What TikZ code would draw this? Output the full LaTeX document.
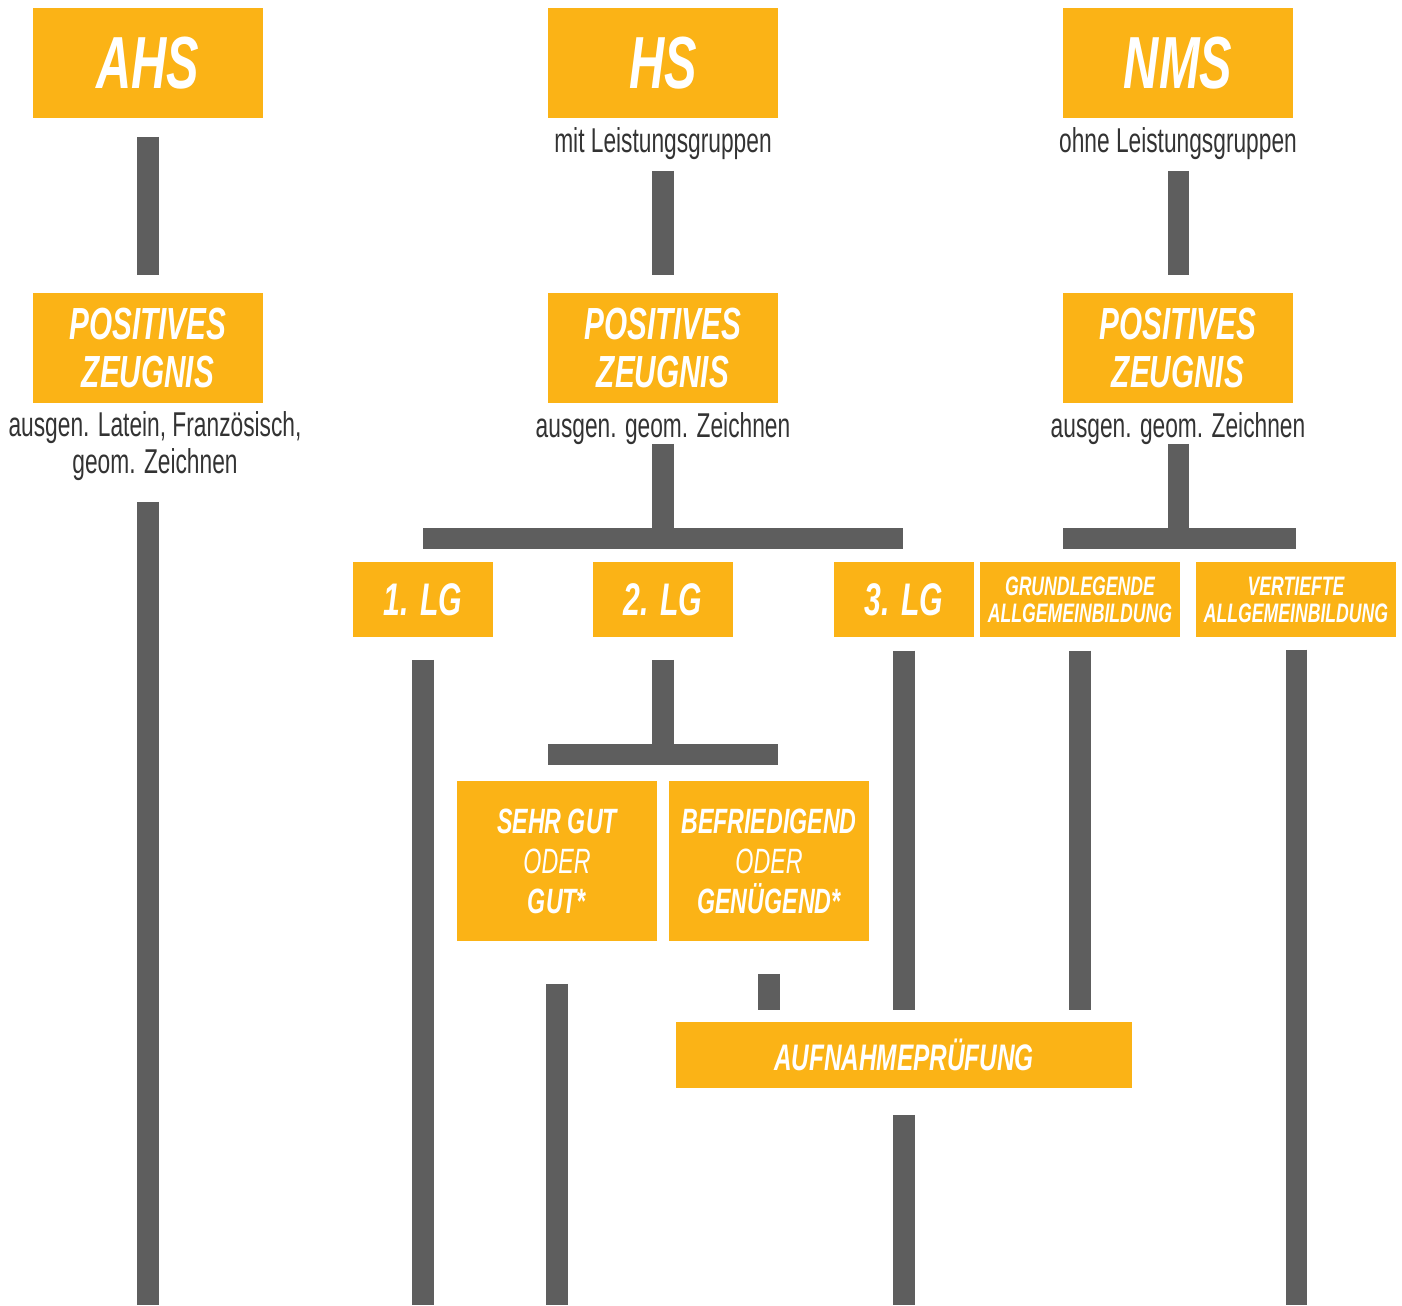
\documentclass[tikz,border=0pt]{standalone}
\usepackage{fontspec}
\setmainfont{Liberation Sans}[FakeStretch=0.66]
\usepackage{tikz}
\usetikzlibrary{positioning}
\definecolor{boxorange}{HTML}{FBB316}
\definecolor{bargray}{HTML}{5E5E5E}
\definecolor{notegray}{HTML}{333333}

\begin{document}
\begin{tikzpicture}[x=0.01cm, y=-0.01cm,
  box/.style={fill=boxorange, text=white, inner sep=0pt, align=center},
  schoolbox/.style={box, minimum width=2.3cm, minimum height=1.1cm, font=\bfseries\itshape\fontsize{21}{25}\selectfont},
  gradebox/.style={box, minimum width=2.3cm, minimum height=1.1cm, font=\bfseries\itshape\fontsize{12.8}{13.4}\selectfont},
  lgbox/.style={box, minimum width=1.4cm, minimum height=0.75cm, font=\bfseries\itshape\fontsize{13}{15}\selectfont},
  agbox/.style={box, minimum width=2cm, minimum height=0.75cm, font=\bfseries\itshape\fontsize{7.6}{7.7}\selectfont},
  notebox/.style={box, minimum width=2cm, minimum height=1.6cm, font=\bfseries\itshape\fontsize{10}{11.4}\selectfont},
  note/.style={text=notegray, align=center, inner sep=0pt, font=\fontsize{9.8}{10.5}\selectfont},
  bar/.style={draw=bargray, line width=0.21cm}]
\useasboundingbox (0,0) rectangle (1402,1305);

% top row
\node[schoolbox] (AHS) at (148,63) {AHS};
\node[schoolbox] (HS) at (663,63) {HS};
\node[schoolbox] (NMS) at (1178,63) {NMS};
\node[note, anchor=base] (HSNote) at (663,152) {mit Leistungsgruppen};
\node[note, anchor=base] (NMSNote) at (1178,152) {ohne Leistungsgruppen};

% zeugnis row
\node[gradebox] (AHSZeugnis) at (148,348) {POSITIVES\\ZEUGNIS};
\node[gradebox] (HSZeugnis) at (663,348) {POSITIVES\\ZEUGNIS};
\node[gradebox] (NMSZeugnis) at (1178,348) {POSITIVES\\ZEUGNIS};
\node[note] (AHSAusgen) at (155,446) {ausgen. Latein, Franz\"osisch,\\geom. Zeichnen};
\node[note, anchor=base] (HSAusgen) at (663,437) {ausgen. geom. Zeichnen};
\node[note, anchor=base] (NMSAusgen) at (1178,437) {ausgen. geom. Zeichnen};

% leistungsgruppen
\node[lgbox] (LGEins) at (423,599.5) {1. LG};
\node[lgbox] (LGZwei) at (663,599.5) {2. LG};
\node[lgbox] (LGDrei) at (904,599.5) {3. LG};
\node[agbox] (Grund) at (1080,599.5) {GRUNDLEGENDE\\ALLGEMEINBILDUNG};
\node[agbox] (Vert) at (1296,599.5) {VERTIEFTE\\ALLGEMEINBILDUNG};

\node[notebox] (SehrGut) at (557,861) {SEHR GUT\\{\mdseries ODER}\\GUT*};
\node[notebox] (Befr) at (769,861) {BEFRIEDIGEND\\{\mdseries ODER}\\GEN\"UGEND*};
\node[box, minimum width=4.55cm, minimum height=0.66cm, font=\bfseries\itshape\fontsize{10.5}{12}\selectfont] (Aufnahme) at (904,1055) {AUFNAHMEPR\"UFUNG};

% split points and free ends
\coordinate (HSSplit) at (663,538);
\coordinate (HSSplitL) at (423,538);
\coordinate (HSSplitR) at (903,538);
\coordinate (NMSSplit) at (1178,538);
\coordinate (NMSSplitL) at (1063,538);
\coordinate (NMSSplitR) at (1296,538);
\coordinate (LGZweiSplit) at (663,754.5);
\coordinate (LGZweiSplitL) at (548,754.5);
\coordinate (LGZweiSplitR) at (778,754.5);
\coordinate (AHSEnd) at (148,1305);
\coordinate (LGEinsEnd) at (423,1305);
\coordinate (SehrGutEnd) at (557,1305);
\coordinate (AufnahmeEnd) at (904,1305);
\coordinate (VertEnd) at (1296,1305);

% bars
\draw[bar, shorten <=0.18cm, shorten >=0.17cm] (AHS) -- (AHSZeugnis);
\draw[bar, shorten <=0.98cm] (AHSZeugnis) -- (AHSEnd);
\draw[bar, shorten <=0.52cm, shorten >=0.17cm] (HS) -- (HSZeugnis);
\draw[bar, shorten <=0.52cm, shorten >=0.17cm] (NMS) -- (NMSZeugnis);
\draw[bar, shorten <=0.40cm] (HSZeugnis) -- (HSSplit);
\draw[bar] (HSSplitL) -- (HSSplitR);
\draw[bar, shorten <=0.40cm] (NMSZeugnis) -- (NMSSplit);
\draw[bar] (NMSSplitL) -- (NMSSplitR);
\draw[bar, shorten <=0.22cm] (LGEins) -- (LGEinsEnd);
\draw[bar, shorten <=0.22cm] (LGZwei) -- (LGZweiSplit);
\draw[bar] (LGZweiSplitL) -- (LGZweiSplitR);
\draw[bar, shorten <=0.42cm] (SehrGut) -- (SehrGutEnd);
\draw[bar, shorten <=0.32cm, shorten >=0.11cm] (Befr.south) -- (Befr.south |- Aufnahme.north);
\draw[bar, shorten <=0.13cm, shorten >=0.11cm] (LGDrei) -- (Aufnahme);
\draw[bar, shorten <=0.13cm, shorten >=0.11cm] (Grund.south) -- (Grund.south |- Aufnahme.north);
\draw[bar, shorten <=0.12cm] (Vert) -- (VertEnd);
\draw[bar, shorten <=0.26cm] (Aufnahme) -- (AufnahmeEnd);
\end{tikzpicture}
\end{document}
